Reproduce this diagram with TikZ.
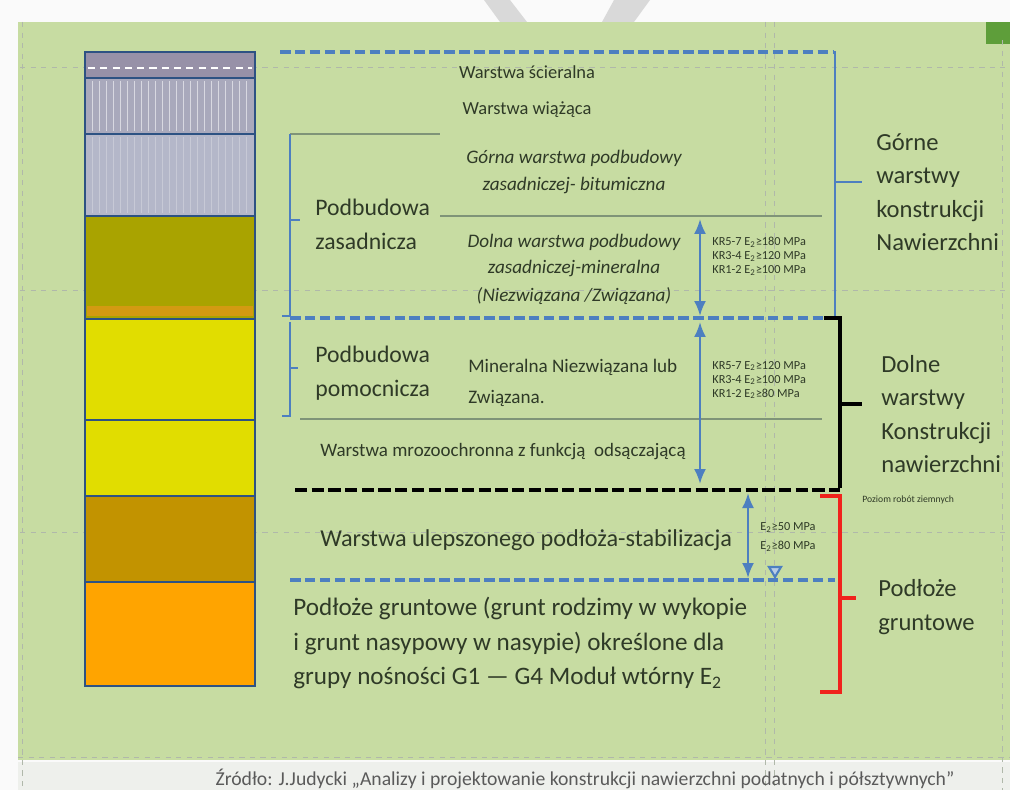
\documentclass[tikz,border=0pt]{standalone}
\usepackage{fontspec}
\setmainfont{Carlito}
\usetikzlibrary{arrows.meta}
\definecolor{ink}{HTML}{2F3A27}
\definecolor{muted}{HTML}{5A5A5A}
\definecolor{panel}{HTML}{C7DCA2}
\definecolor{pagebg}{HTML}{FAFAFA}
\definecolor{footbg}{HTML}{EEF0EC}
\definecolor{guidegray}{HTML}{8E9A86}
\definecolor{layerline}{HTML}{2D5283}
\definecolor{wearing}{HTML}{9791A8}
\definecolor{binder}{HTML}{A9A9BC}
\definecolor{upperbase}{HTML}{B4B7C9}
\definecolor{lowerbase}{HTML}{A9A300}
\definecolor{basestrip}{HTML}{D39A12}
\definecolor{subbase}{HTML}{E1DD00}
\definecolor{improved}{HTML}{C29300}
\definecolor{subgrade}{HTML}{FFA400}
\definecolor{lineblue}{HTML}{4D7FC0}
\definecolor{thingray}{HTML}{7F9478}
\definecolor{bracketred}{HTML}{F0231C}
\definecolor{cornergreen}{HTML}{5E9E3A}
\tikzset{
  layer/.style={draw=layerline,line width=1.5pt},
  blue level/.style={draw=lineblue,line width=2pt,dash pattern=on 6pt off 2.5pt},
  black level/.style={draw=black,line width=2.4pt,dash pattern=on 7pt off 2.5pt},
  blue bracket/.style={draw=lineblue,line width=1.6pt},
  black bracket/.style={draw=black,line width=2pt},
  red bracket/.style={draw=bracketred,line width=2pt},
  thin rule/.style={draw=thingray,line width=0.9pt},
  dim/.style={{Latex[length=3mm,width=2.4mm]}-{Latex[length=3mm,width=2.4mm]},draw=lineblue,line width=1.3pt},
  guide/.style={draw=guidegray!70,line width=0.5pt,dash pattern=on 3pt off 3pt},
  small label/.style={text=ink,inner sep=0pt,font=\fontsize{10.5}{12}\selectfont},
  italic label/.style={small label,font=\fontsize{10.9}{12}\selectfont\itshape},
  big label/.style={text=ink,inner sep=0pt,anchor=west,font=\fontsize{13.5}{19.5}\selectfont},
  side label/.style={text=ink,inner sep=0pt,anchor=west,align=left,font=\fontsize{14}{19}\selectfont},
  tiny label/.style={text=ink,inner sep=0pt,anchor=west,align=left,font=\fontsize{7}{8}\selectfont}
}

\begin{document}
\begin{tikzpicture}[x=0.02cm,y=-0.02cm]
  \useasboundingbox (0,0) rectangle (1010,790);
  % page and panel
  \fill[pagebg] (0,0) rectangle (1010,790);
  \fill[panel] (18,22) rectangle (1010,760);
  \fill[footbg] (18,762) rectangle (1010,790);
  \fill[cornergreen] (986,22) rectangle (1010,44);
  \fill[gray!30] (484,0) -- (510,0) -- (527,22) -- (500,22) -- cycle;
  \fill[gray!30] (614,0) -- (650,0) -- (634,22) -- (602,22) -- cycle;

  % slide guides
  \draw[guide] (20,67) -- (1005,67);
  \draw[guide] (20,290) -- (1005,290);
  \draw[guide] (20,532) -- (1005,532);
  \draw[guide] (18,757) -- (1010,757);
  \draw[guide] (765,22) -- (765,790);
  \draw[guide] (774,22) -- (774,790);
  \draw[guide] (1002,40) -- (1002,790);
  \draw[guide] (22,22) -- (22,790);

  % layer column
  \draw[layer,fill=wearing] (85,52) rectangle (255,78);
  \draw[white,line width=0.8pt,dash pattern=on 4pt off 3pt] (88,68) -- (252,68);
  \draw[layer,fill=binder] (85,78) rectangle (255,134);
  \foreach \x in {92,99,...,250}
    \draw[white!55!binder,line width=0.4pt] (\x,81) -- (\x,131);
  \draw[layer,fill=upperbase] (85,134) rectangle (255,216);
  \foreach \x in {92,99,...,250}
    \draw[white!25!upperbase,line width=0.4pt] (\x,137) -- (\x,213);
  \draw[layer,fill=lowerbase] (85,216) rectangle (255,319);
  \fill[basestrip] (87,306) rectangle (253,316);
  \draw[layer,fill=subbase] (85,319) rectangle (255,420);
  \draw[layer,fill=subbase] (85,420) rectangle (255,496);
  \draw[layer,fill=improved] (85,496) rectangle (255,582);
  \draw[layer,fill=subgrade] (85,582) rectangle (255,686);

  % level lines and brackets
  \draw[blue level] (280,52) -- (833,52);
  \draw[blue bracket] (835,51) -- (835,318);
  \draw[blue bracket] (835,182) -- (862,182);
  \draw[blue level] (290,318) -- (835,318);
  \draw[black bracket] (824,318) -- (840,318) -- (840,488);
  \draw[black bracket] (840,404) -- (862,404);
  \draw[black level] (295,490) -- (840,490);
  \draw[red bracket] (820,496) -- (840,496) -- (840,692) -- (820,692);
  \draw[red bracket] (840,598) -- (856,598);
  \draw[blue level] (290,580) -- (835,580);

  \draw[thin rule] (290,134) -- (440,134);
  \draw[thin rule] (440,216) -- (822,216);
  \draw[thin rule] (300,419) -- (822,419);
  \draw[blue bracket,line width=1pt] (290,134) -- (290,316) -- (282,316);
  \draw[blue bracket,line width=1pt] (290,220) -- (300,220);
  \draw[blue bracket,line width=1pt] (290,322) -- (290,416) -- (282,416);
  \draw[blue bracket,line width=1pt] (290,368) -- (298,368);

  % dimension arrows
  \coordinate (zas top) at (700,219);
  \coordinate (zas bottom) at (700,316);
  \coordinate (pom top) at (700,322);
  \coordinate (pom bottom) at (700,484);
  \coordinate (ulep top) at (748,493);
  \coordinate (ulep bottom) at (748,578);
  \draw[dim] (zas top) -- (zas bottom);
  \draw[dim] (pom top) -- (pom bottom);
  \draw[dim] (ulep top) -- (ulep bottom);
  \draw[lineblue,line width=1.2pt,fill=lineblue!40] (769,567) -- (781,567) -- (775,577) -- cycle;

  % layer names
  \node[small label] (scieralna) at (527,72) {Warstwa ścieralna};
  \node[small label] (wiazaca) at (527,110) {Warstwa wiążąca};
  \node[italic label] (gorna1) at (574,158) {Górna warstwa podbudowy};
  \node[italic label] (gorna2) at (574,185) {zasadniczej- bitumiczna};
  \node[italic label] (dolna1) at (574,242) {Dolna warstwa podbudowy};
  \node[italic label] (dolna2) at (574,268) {zasadniczej-mineralna};
  \node[italic label] (dolna3) at (574,296) {(Niezwiązana /Związana)};
  \node[big label] (zasadnicza) at (315,224) [align=left] {Podbudowa\\zasadnicza};
  \node[big label] (pomocnicza) at (315,373) [align=left] {Podbudowa\\pomocnicza};
  \node[small label,anchor=west,font=\fontsize{10.9}{12}\selectfont] (mineralna) at (468,367) {Mineralna Niezwiązana lub};
  \node[small label,anchor=west,font=\fontsize{10.9}{12}\selectfont] (zwiazana) at (468,398) {Związana.};
  \node[small label,anchor=west,font=\fontsize{10.8}{12}\selectfont] (mrozo) at (320,452) {Warstwa mrozoochronna z funkcją\ \ odsączającą};
  \node[big label,font=\fontsize{13.8}{15}\selectfont] (ulepszone) at (320,540) {Warstwa ulepszonego podłoża-stabilizacja};
  \node[big label,font=\fontsize{14.3}{19.7}\selectfont] (podloze) at (293,643) [align=left]
    {Podłoże gruntowe (grunt rodzimy w wykopie\\
     i grunt nasypowy w nasypie) określone dla\\
     grupy nośności G1 — G4 Moduł wtórny E\textsubscript{2}};

  % bearing moduli
  \node[tiny label] (modul zas) at (712,256)
    {KR5-7 E\textsubscript{2}≥180 MPa\\KR3-4 E\textsubscript{2}≥120 MPa\\KR1-2 E\textsubscript{2}≥100 MPa};
  \node[tiny label] (modul pom) at (712,380)
    {KR5-7 E\textsubscript{2}≥120 MPa\\KR3-4 E\textsubscript{2}≥100 MPa\\KR1-2 E\textsubscript{2}≥80 MPa};
  \node[tiny label,font=\fontsize{7}{10.5}\selectfont] (modul ulep) at (760,537)
    {E\textsubscript{2}≥50 MPa\\E\textsubscript{2}≥80 MPa};
  \node[tiny label,font=\fontsize{5.5}{7}\selectfont] (poziom) at (862,500) {Poziom robót ziemnych};

  % groups on the right
  \node[side label] (gorne) at (876,192)
    {Górne\\warstwy\\konstrukcji\\Nawierzchni};
  \node[side label] (dolne) at (881,414)
    {Dolne\\warstwy\\Konstrukcji\\nawierzchni};
  \node[side label] (podloze gruntowe) at (878,607) {Podłoże\\gruntowe};

  % source
  \node[text=muted,inner sep=0pt,font=\fontsize{11.2}{13}\selectfont] (zrodlo) at (585,779)
    {Źródło: J.Judycki „Analizy i projektowanie konstrukcji nawierzchni podatnych i półsztywnych”};
\end{tikzpicture}
\end{document}
